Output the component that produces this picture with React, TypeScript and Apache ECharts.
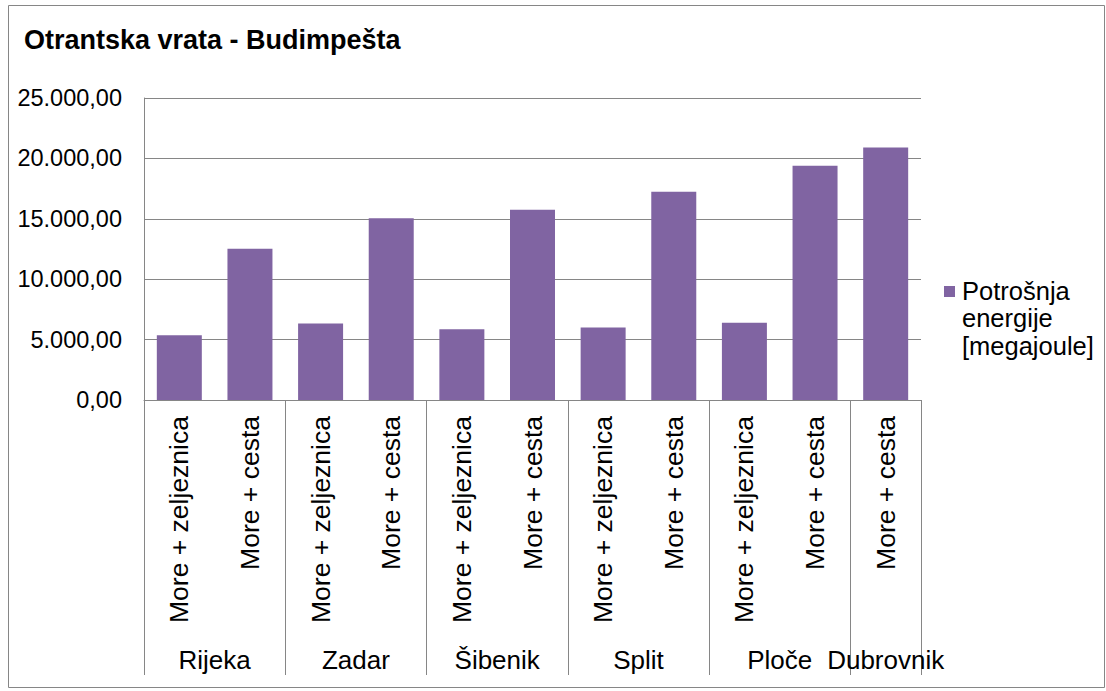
import React, { useEffect, useRef } from "react";
import * as echarts from "echarts";

const titleText = "Otrantska vrata - Budimpešta";
const seriesName = "Potrošnja energije [megajoule]";
const modes = [
  "More + zeljeznica", "More + cesta",
  "More + zeljeznica", "More + cesta",
  "More + zeljeznica", "More + cesta",
  "More + zeljeznica", "More + cesta",
  "More + zeljeznica", "More + cesta",
  "More + cesta",
];
const cities = ["Rijeka", "Zadar", "Šibenik", "Split", "Ploče", "Dubrovnik"];
const citySizes = [2, 2, 2, 2, 2, 1];
const values = [5370, 12525, 6330, 15040, 5865, 15750, 5995, 17235, 6385, 19385, 20905];
const yTicks = [0, 5000, 10000, 15000, 20000, 25000];

const FONT = "'Liberation Sans', Arial, sans-serif";
const GREY = "#868686";

function fmt(v: number): string {
  const fixed = v.toFixed(2);
  const [i, d] = fixed.split(".");
  return i.replace(/\B(?=(\d{3})+(?!\d))/g, ".") + "," + d;
}

// outer (group) axis built at half-category resolution
const outerData: string[] = new Array(modes.length * 2 + 1).fill("");
const boundaryIdx = new Set<number>();
{
  let s = 0;
  cities.forEach((c, k) => {
    const n = citySizes[k];
    outerData[2 * s + n] = c;
    boundaryIdx.add(2 * s);
    s += n;
  });
  boundaryIdx.add(2 * s);
}

export default function App() {
  const ref = useRef<HTMLDivElement>(null);
  useEffect(() => {
    if (!ref.current) return;
    const chart = echarts.init(ref.current, null, { renderer: "svg" });
    const gridPos = { left: 144, top: 98, width: 777, height: 302 };
    chart.setOption({
      animation: false,
      backgroundColor: "#ffffff",
      title: {
        text: titleText,
        left: 19,
        top: 21,
        textStyle: { fontFamily: FONT, fontSize: 27, fontWeight: "bold", color: "#000" },
      },
      grid: [
        { ...gridPos },
        { ...gridPos },
      ],
      xAxis: [
        {
          type: "category",
          gridIndex: 0,
          data: modes,
          axisLine: { show: true, lineStyle: { color: GREY, width: 1 } },
          axisTick: { show: false },
          axisLabel: {
            interval: 0,
            rotate: 90,
            margin: 16,
            fontFamily: FONT,
            fontSize: 26.5,
            color: "#000",
          },
          splitLine: { show: false },
        },
        {
          type: "category",
          gridIndex: 1,
          data: outerData,
          boundaryGap: false,
          position: "bottom",
          axisLine: { show: false },
          axisTick: {
            show: true,
            length: 275,
            interval: (i: number) => boundaryIdx.has(i),
            lineStyle: { color: GREY, width: 1 },
          },
          axisLabel: {
            interval: 0,
            margin: 247,
            fontFamily: FONT,
            fontSize: 26,
            color: "#000",
          },
          splitLine: { show: false },
        },
      ],
      yAxis: [
        {
          type: "value",
          gridIndex: 0,
          min: yTicks[0],
          max: yTicks[yTicks.length - 1],
          interval: yTicks[1] - yTicks[0],
          axisLine: { show: true, lineStyle: { color: GREY, width: 1 } },
          axisTick: { show: false },
          axisLabel: {
            margin: 22,
            fontFamily: FONT,
            fontSize: 23.5,
            color: "#000",
            formatter: (v: number) => fmt(v),
          },
          splitLine: { show: true, lineStyle: { color: GREY, width: 1 } },
        },
        { type: "value", gridIndex: 1, show: false, min: 0, max: 25000 },
      ],
      series: [
        {
          name: seriesName,
          type: "bar",
          xAxisIndex: 0,
          yAxisIndex: 0,
          data: values,
          barWidth: 45,
          itemStyle: { color: "#8064A2" },
        },
      ],
      graphic: [
        {
          type: "rect",
          shape: { x: 8.5, y: 5.5, width: 1096, height: 682 },
          style: { fill: "none", stroke: GREY, lineWidth: 1 },
          silent: true,
        },
        {
          type: "rect",
          shape: { x: 944, y: 286, width: 11, height: 11 },
          style: { fill: "#8064A2" },
        },
        {
          type: "text",
          x: 962,
          y: 277,
          style: {
            text: "Potrošnja\nenergije\n[megajoule]",
            fontFamily: FONT,
            fontSize: 25.5,
            lineHeight: 27.5,
            fill: "#000",
          },
        },
      ],
    });
    return () => chart.dispose();
  }, []);
  return (
    <div
      ref={ref}
      style={{ position: "fixed", left: 0, top: 0, width: 1106, height: 691 }}
    />
  );
}
